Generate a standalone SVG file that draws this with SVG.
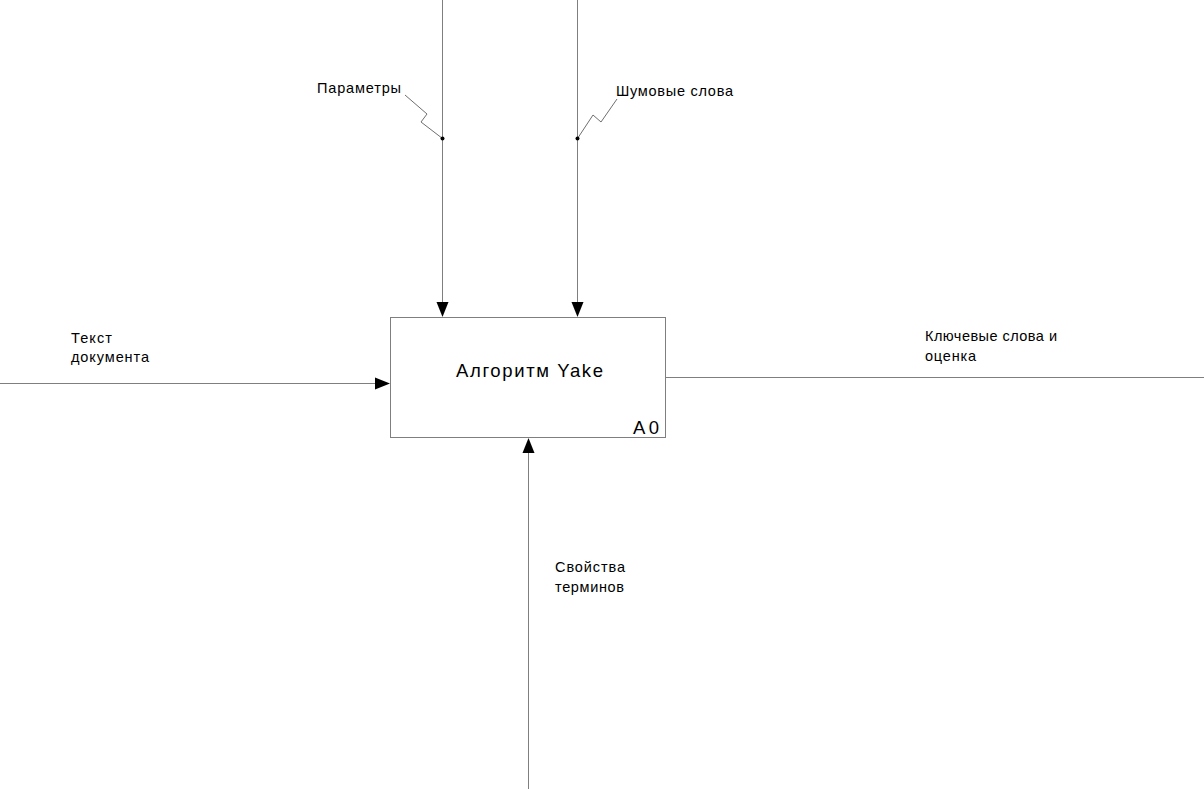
<svg xmlns="http://www.w3.org/2000/svg" width="1204" height="789" viewBox="0 0 1204 789">
<style>
  .ln { stroke: #7f7f7f; stroke-width: 1; fill: none; }
  .sq { stroke: #6f6f6f; stroke-width: 1; fill: none; }
  .ah { fill: #000; stroke: none; }
  .lbl { font-family: "Liberation Sans", Arial, sans-serif; font-size: 14.5px; fill: #000; }
  .ttl { font-family: "Liberation Sans", Arial, sans-serif; font-size: 18.5px; fill: #000; }
  .num { font-family: "Liberation Sans", Arial, sans-serif; font-size: 18.5px; fill: #000; }
</style>
<rect x="0" y="0" width="1204" height="789" fill="#fff"/>
<g id="A0">
  <rect x="390.5" y="317.5" width="275" height="120" fill="#fff" stroke="#7f7f7f" stroke-width="1"/>
  <text class="ttl" x="456" y="377" textLength="147" lengthAdjust="spacing">Алгоритм Yake</text>
  <text class="num" x="633" y="434" textLength="26" lengthAdjust="spacing">A0</text>
</g>
<g id="connectors">
  <g id="c-params">
    <line class="ln" x1="442.5" y1="0" x2="442.5" y2="303"/>
    <polygon class="ah" points="436.5,302 448.5,302 442.5,317"/>
    <polyline class="sq" points="405,95 427,114 421,122 442.5,138.5"/>
    <circle cx="442.5" cy="138.5" r="2" fill="#000"/>
    <text class="lbl" x="317" y="93" textLength="84" lengthAdjust="spacing">Параметры</text>
  </g>
  <g id="c-stopwords">
    <line class="ln" x1="577.5" y1="0" x2="577.5" y2="303"/>
    <polygon class="ah" points="571.5,302 583.5,302 577.5,317"/>
    <polyline class="sq" points="577.5,138.5 593,115 601,122 617,99"/>
    <circle cx="577.5" cy="138.5" r="2" fill="#000"/>
    <text class="lbl" x="616" y="96" textLength="117" lengthAdjust="spacing">Шумовые слова</text>
  </g>
  <g id="c-input">
    <line class="ln" x1="0" y1="383.5" x2="376" y2="383.5"/>
    <polygon class="ah" points="375,377.5 375,389.5 390,383.5"/>
    <text class="lbl" x="71" y="343" textLength="41" lengthAdjust="spacing">Текст</text>
    <text class="lbl" x="71" y="362" textLength="78" lengthAdjust="spacing">документа</text>
  </g>
  <g id="c-output">
    <line class="ln" x1="666" y1="377.5" x2="1204" y2="377.5"/>
    <text class="lbl" x="925" y="341" textLength="132" lengthAdjust="spacing">Ключевые слова и</text>
    <text class="lbl" x="925" y="361" textLength="51" lengthAdjust="spacing">оценка</text>
  </g>
  <g id="c-mechanism">
    <line class="ln" x1="528.5" y1="789" x2="528.5" y2="452"/>
    <polygon class="ah" points="522.5,453 534.5,453 528.5,438"/>
    <text class="lbl" x="555" y="572" textLength="70" lengthAdjust="spacing">Свойства</text>
    <text class="lbl" x="555" y="592" textLength="69" lengthAdjust="spacing">терминов</text>
  </g>
</g>
</svg>
